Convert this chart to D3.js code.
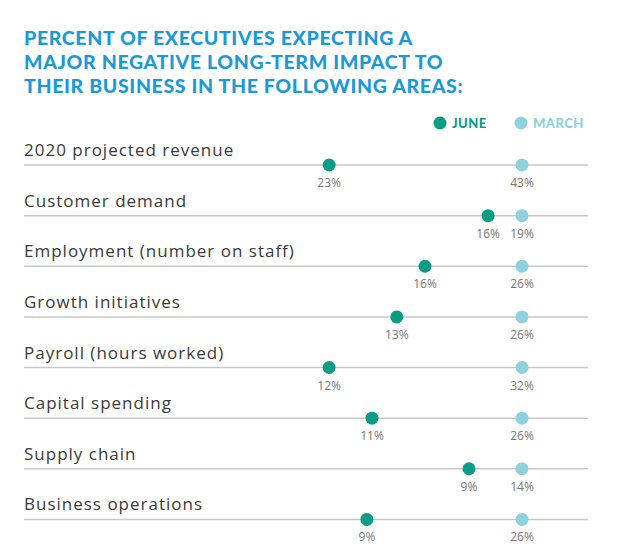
<!DOCTYPE html>
<html><head><meta charset="utf-8">
<script src="https://cdn.jsdelivr.net/npm/d3@7"></script>
<style>body{margin:0;background:#fff}</style></head>
<body><svg id="c" width="623" height="551"></svg>
<script>
const titleLines = ["PERCENT OF EXECUTIVES EXPECTING A","MAJOR NEGATIVE LONG-TERM IMPACT TO","THEIR BUSINESS IN THE FOLLOWING AREAS:"];
const categories = ["2020 projected revenue","Customer demand","Employment (number on staff)","Growth initiatives","Payroll (hours worked)","Capital spending","Supply chain","Business operations"];
const juneValues = [23,16,16,13,12,11,9,9];
const marchValues = [43,19,26,26,32,26,14,26];
// dot positions along the track (0-100 of track)
const junePos = [54.1,82.3,71.1,66.1,54.1,61.7,78.9,60.8];
const marchPos = [88.3,88.3,88.3,88.3,88.3,88.3,88.3,88.3];
const seriesNames = ["JUNE","MARCH"];
const colors = {june:"#0b9c85", march:"#8dd2dc"};

const svg = d3.select("#c");
svg.selectAll("text.title").data(titleLines).join("text").attr("class","title")
  .attr("x",24).attr("y",45).attr("dy",(d,i)=>i*24).text(d=>d)
  .attr("font-family","Lato, 'Open Sans', sans-serif").attr("font-weight","900")
  .attr("font-size",19.5).attr("fill","#1b9ad7").attr("letter-spacing",0.65);

const x = d3.scaleLinear().domain([0,100]).range([24,588]);
const y = d3.scaleBand().domain(categories).range([140,545]);

const leg = [{n:seriesNames[0],c:colors.june,x:440},{n:seriesNames[1],c:colors.march,x:521}];
leg.forEach(l=>{
  svg.append("circle").attr("cx",l.x).attr("cy",123).attr("r",6.5).attr("fill",l.c);
  svg.append("text").attr("x",l.x+12).attr("y",128).text(l.n).attr("fill",l.c)
   .attr("font-family","Lato, sans-serif").attr("font-weight","900").attr("font-size",13).attr("letter-spacing",0.5);
});

const g = svg.selectAll("g.row").data(categories).join("g").attr("class","row")
  .attr("transform",d=>`translate(0,${y(d)})`);
g.append("text").attr("x",24).attr("y",16).text(d=>d)
  .attr("font-family","'Open Sans', sans-serif").attr("font-size",17).attr("fill","#3a3a3a").attr("letter-spacing",1);
g.append("line").attr("x1",x(0)).attr("x2",x(100)).attr("y1",25).attr("y2",25)
  .attr("stroke","#c8c8c8").attr("stroke-width",1.5);
g.append("circle").attr("cx",(d,i)=>x(junePos[i])).attr("cy",25).attr("r",6.5).attr("fill",colors.june);
g.append("circle").attr("cx",(d,i)=>x(marchPos[i])).attr("cy",25).attr("r",6.5).attr("fill",colors.march);
g.append("text").attr("x",(d,i)=>x(junePos[i])).attr("y",47).attr("text-anchor","middle")
  .text((d,i)=>juneValues[i]+"%").attr("font-family","'Open Sans', sans-serif").attr("font-size",12).attr("fill","#777");
g.append("text").attr("x",(d,i)=>x(marchPos[i])).attr("y",47).attr("text-anchor","middle")
  .text((d,i)=>marchValues[i]+"%").attr("font-family","'Open Sans', sans-serif").attr("font-size",12).attr("fill","#777");
</script></body></html>
